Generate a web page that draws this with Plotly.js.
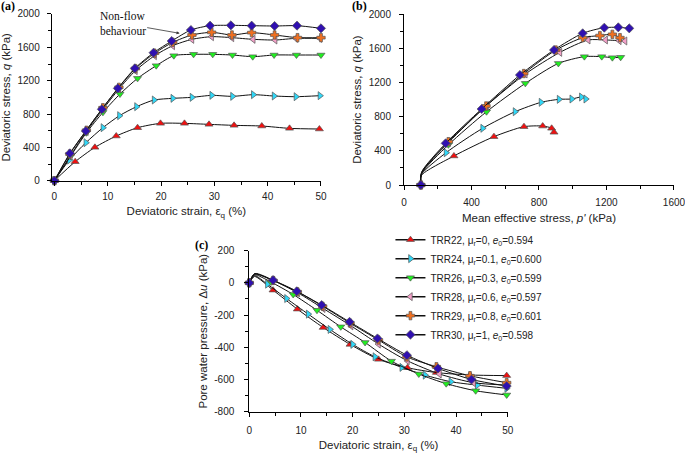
<!DOCTYPE html>
<html>
<head>
<meta charset="utf-8">
<script src="https://cdn.plot.ly/plotly-3.0.1.min.js"></script>
<style>
  html, body { margin: 0; padding: 0; background: #fff; }
  #chart { width: 685px; height: 453px; }
</style>
</head>
<body>
<div id="chart"></div>
<script>
// test names, legend text and marker look
const TESTS = ['TRR22', 'TRR24', 'TRR26', 'TRR28', 'TRR29', 'TRR30'];
const MU_R = ['0', '0.1', '0.3', '0.6', '0.8', '1'];
const E0 = ['0.594', '0.600', '0.599', '0.597', '0.601', '0.598'];
const COLORS = ['#f01010', '#30d8f8', '#20ee20', '#f4a0c8', '#f07020', '#3010b0'];
const SYMBOLS = ['triangle-up', 'triangle-right', 'triangle-down', 'triangle-left', 'cross', 'diamond'];

// (a) deviatoric strain (%) vs q (kPa)
const A_EPS = [
  [0, 3.9, 7.6, 11.6, 15.6, 19.9, 24.4, 29.0, 33.7, 38.9, 44.1, 49.7],
  [0, 2.8, 5.9, 9.1, 12.2, 15.4, 18.7, 22.2, 25.8, 29.5, 33.4, 37.3, 41.2, 45.3, 49.8],
  [0, 3.0, 6.0, 9.1, 12.3, 15.6, 19.1, 22.4, 26.1, 29.7, 33.4, 37.2, 41.2, 45.4, 50],
  [0, 3.0, 6.0, 9.1, 12.1, 15.2, 18.8, 22.2, 25.8, 29.5, 33.3, 37.3, 41.4, 45.3, 49.8],
  [0, 2.9, 6.0, 9.1, 12.1, 15.2, 18.8, 22.2, 25.8, 29.5, 33.3, 37.0, 41.3, 45.6, 50],
  [0, 2.9, 5.9, 8.9, 11.9, 15.1, 18.6, 22.0, 25.6, 29.2, 33.1, 37.0, 41.3, 45.5, 50]
];
const A_Q = [
  [0, 228, 400, 536, 636, 688, 688, 676, 664, 656, 628, 620],
  [0, 248, 456, 636, 780, 888, 968, 988, 1000, 1024, 1012, 1032, 1016, 1008, 1020],
  [0, 290, 575, 820, 1040, 1228, 1380, 1500, 1516, 1516, 1508, 1488, 1508, 1508, 1508],
  [0, 300, 590, 855, 1100, 1320, 1500, 1620, 1696, 1728, 1716, 1696, 1688, 1708, 1708],
  [0, 320, 605, 875, 1120, 1345, 1530, 1660, 1748, 1780, 1748, 1776, 1748, 1716, 1716],
  [0, 328, 596, 857, 1108, 1348, 1536, 1676, 1808, 1860, 1864, 1860, 1856, 1860, 1828]
];

// (b) mean effective stress p' (kPa) vs q (kPa); second point is the bend, no marker
const B_P = [
  [100, 102, 296, 533, 711, 822, 875, 889],
  [100, 102, 249, 466, 658, 812, 919, 994, 1051, 1077],
  [100, 103, 263, 489, 719, 915, 1069, 1172, 1235, 1284],
  [100, 104, 265, 490, 719, 924, 1092, 1195, 1276, 1310],
  [100, 104, 263, 486, 710, 900, 1059, 1161, 1235, 1280],
  [100, 104, 247, 460, 687, 889, 1059, 1187, 1270, 1335]
];
const B_Q = [
  [0, 110, 340, 566, 683, 690, 664, 617],
  [0, 120, 378, 664, 858, 968, 1003, 1007, 1030, 1007],
  [0, 130, 470, 858, 1190, 1424, 1503, 1503, 1491, 1495],
  [0, 140, 500, 930, 1300, 1553, 1698, 1698, 1690, 1686],
  [0, 145, 507, 925, 1305, 1580, 1725, 1749, 1764, 1725],
  [0, 150, 488, 890, 1288, 1581, 1776, 1842, 1846, 1834]
];

// (c) deviatoric strain (%) vs pore water pressure (kPa); second point is the peak, no marker
const C_EPS = [
  [0, 1.0, 4.6, 9.3, 14.3, 19.5, 25.0, 30.6, 36.2, 42.7, 49.8],
  [0, 1.0, 3.5, 7.2, 11.4, 15.6, 20.0, 24.3, 29.5, 34.0, 39.0, 44.1, 49.8],
  [0, 1.0, 4.2, 8.5, 13.1, 17.7, 22.4, 27.5, 32.8, 38.1, 43.8, 49.8],
  [0, 1.0, 4.6, 9.4, 14.3, 19.7, 25.0, 30.6, 36.8, 43.4, 49.8],
  [0, 1.0, 4.6, 9.3, 14.2, 19.5, 25.0, 30.5, 36.2, 42.7, 49.8],
  [0, 1.1, 4.6, 9.2, 14.0, 19.4, 24.8, 30.5, 36.5, 43.0, 49.8]
];
const C_DU = [
  [0, 40, -45, -163, -277, -382, -475, -527, -557, -572, -576],
  [0, 45, -8, -97, -194, -289, -382, -459, -525, -573, -614, -635, -655],
  [0, 50, 5, -72, -170, -273, -370, -486, -566, -626, -670, -696],
  [0, 55, 15, -62, -159, -267, -380, -484, -566, -620, -635],
  [0, 55, 15, -55, -145, -250, -355, -460, -521, -577, -620],
  [0, 58, 17, -52, -138, -242, -345, -449, -531, -600, -641]
];

const C_YTICKS = [200, 0, -200, -400, -600, -800];
const C_YTEXT = ['200', '0', '-200', '-400', '-600', '-800'];

const SANS = 'Liberation Sans, Arial, sans-serif';
const SERIF = 'Liberation Serif, Times New Roman, serif';

function legendName(i) {
  return TESTS[i] + ', \u03bc<sub>r</sub>=' + MU_R[i] + ', <i>e</i><sub>0</sub>=' + E0[i];
}

function series(x, y, i, xa, ya, skip, legend) {
  const mx = x.filter((_, k) => !skip.includes(k));
  const my = y.filter((_, k) => !skip.includes(k));
  const line = {
    x: x, y: y, xaxis: xa, yaxis: ya, type: 'scatter', mode: 'lines',
    line: { color: '#111', width: 1, shape: 'spline', smoothing: 0.7 },
    showlegend: false, hoverinfo: 'skip', cliponaxis: false
  };
  const marks = {
    x: mx, y: my, xaxis: xa, yaxis: ya, type: 'scatter', mode: 'markers',
    marker: { color: COLORS[i], symbol: SYMBOLS[i], size: 7, line: { color: '#555', width: 0.7 } },
    showlegend: false, cliponaxis: false
  };
  const out = [line, marks];
  if (legend) {
    out.push({
      x: [null], y: [null], xaxis: xa, yaxis: ya, type: 'scatter', mode: 'lines+markers',
      name: legendName(i),
      line: { color: '#111', width: 1.5 },
      marker: { color: COLORS[i], symbol: SYMBOLS[i], size: 7, line: { color: '#555', width: 0.7 } }
    });
  }
  return out;
}

let traces = [];
for (let i = 0; i < TESTS.length; i++) {
  traces = traces.concat(series(A_EPS[i], A_Q[i], i, 'x', 'y', [], false));
  traces = traces.concat(series(B_P[i], B_Q[i], i, 'x2', 'y2', [1], false));
  traces = traces.concat(series(C_EPS[i], C_DU[i], i, 'x3', 'y3', [1], true));
}

function axis(extra) {
  return Object.assign({
    showline: true, linecolor: '#000', linewidth: 1,
    showgrid: false, zeroline: false,
    ticks: 'outside', ticklen: 4, tickwidth: 1, tickcolor: '#000',
    tickfont: { family: SANS, size: 10, color: '#222' },
    ticklabeloverflow: 'allow',
    mirror: false
  }, extra);
}
function ttl(text, standoff) {
  return { text: text, font: { family: SANS, size: 11.5, color: '#222' }, standoff: standoff };
}
function panelLabel(text, px, py) {
  return { text: '<b>' + text + '</b>', xref: 'paper', yref: 'paper',
    x: px / 685, y: 1 - py / 453, xanchor: 'center', yanchor: 'middle',
    showarrow: false, font: { family: SERIF, size: 12, color: '#000' } };
}

const layout = {
  width: 685, height: 453,
  margin: { l: 0, r: 0, t: 0, b: 0 },
  paper_bgcolor: '#fff', plot_bgcolor: 'rgba(0,0,0,0)',
  showlegend: true,
  legend: {
    x: 0.570, y: 0.503, xanchor: 'left', yanchor: 'top',
    font: { family: SANS, size: 10, color: '#222' },
    bgcolor: 'rgba(0,0,0,0)', tracegroupgap: 0, itemwidth: 30
  },
  xaxis: axis({
    domain: [0.0755, 0.4686], range: [-0.5, 50], anchor: 'y',
    tickvals: [0, 10, 20, 30, 40, 50], ticklabelstandoff: 2,
    minor: { ticks: 'outside', ticklen: 3, dtick: 5, tickcolor: '#000' },
    title: ttl('Deviatoric strain, \u03b5<sub>q</sub> (%)', 6)
  }),
  yaxis: axis({
    domain: [0.6011, 0.9691], range: [0, 2000], anchor: 'x',
    dtick: 400, ticklabelstandoff: 5,
    minor: { ticks: 'outside', ticklen: 3, dtick: 200, tickcolor: '#000' },
    title: ttl('Deviatoric stress, <i>q</i> (kPa)', 4)
  }),
  xaxis2: axis({
    domain: [0.5898, 0.9839], range: [0, 1600], anchor: 'y2',
    tickvals: [0, 400, 800, 1200, 1600], ticklabelstandoff: 4,
    minor: { ticks: 'outside', ticklen: 3, dtick: 200, tickcolor: '#000' },
    title: ttl("Mean effective stress, <i>p'</i> (kPa)", 6)
  }),
  yaxis2: axis({
    domain: [0.5916, 0.9687], range: [0, 2000], anchor: 'x2',
    dtick: 400, ticklabelstandoff: 6,
    minor: { ticks: 'outside', ticklen: 3, dtick: 200, tickcolor: '#000' },
    title: ttl('Deviatoric stress, <i>q</i> (kPa)', 4)
  }),
  xaxis3: axis({
    domain: [0.3639, 0.7412], range: [0, 50], anchor: 'y3',
    dtick: 10, ticklabelstandoff: 5,
    minor: { ticks: 'outside', ticklen: 3, dtick: 5, tickcolor: '#000' },
    title: ttl('Deviatoric strain, \u03b5<sub>q</sub> (%)', 6)
  }),
  yaxis3: axis({
    domain: [0.0912, 0.4466], range: [-800, 200], anchor: 'x3',
    tickvals: C_YTICKS, ticktext: C_YTEXT, ticklabelstandoff: 8,
    minor: { ticks: 'outside', ticklen: 3, dtick: 100, tickcolor: '#000' },
    title: ttl('Pore water pressure, \u0394<i>u</i> (kPa)', 4)
  }),
  annotations: [
    panelLabel('(a)', 8, 6),
    panelLabel('(b)', 359, 6),
    panelLabel('(c)', 201, 245),
    { text: 'Non-flow<br>behaviour', xref: 'x', yref: 'y', x: 23.5, y: 1768,
      ax: -57, ay: -10, showarrow: true, arrowhead: 2, arrowsize: 0.8, arrowwidth: 0.8,
      arrowcolor: '#333', align: 'left',
      font: { family: SERIF, size: 11.5, color: '#111' } }
  ]
};

Plotly.newPlot('chart', traces, layout, { displayModeBar: false, staticPlot: true });
</script>
</body>
</html>
